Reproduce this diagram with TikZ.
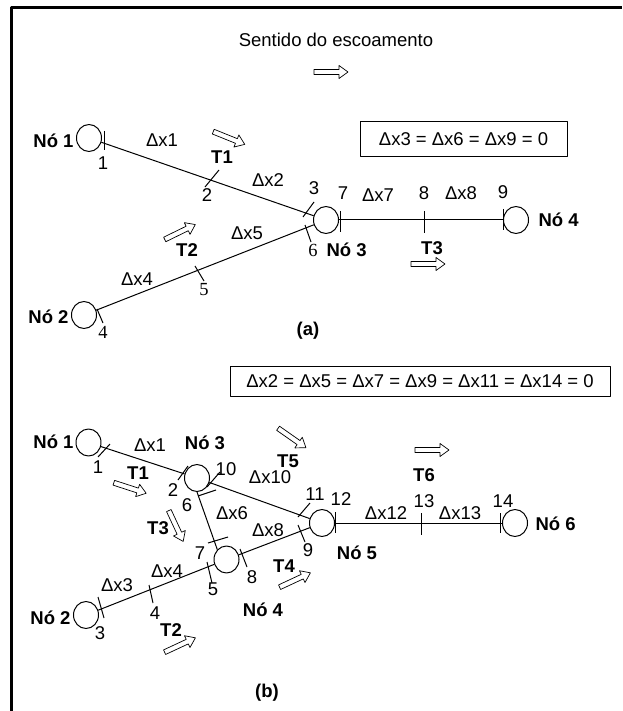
\documentclass[tikz,border=0pt]{standalone}
\usepackage{fontspec}
\setmainfont{Liberation Sans}
\newfontfamily\serifa{Liberation Serif}
\usetikzlibrary{shapes.geometric}
\newcommand{\tamanho}{\fontsize{18.5}{22}\selectfont}
\tikzset{
  no/.style={draw, ellipse, minimum width=25pt, minimum height=27pt, inner sep=0pt},
  negrito/.style={font=\tamanho\bfseries},
  serif/.style={font=\tamanho\serifa},
  caixa/.style={draw, line width=1pt},
  seta/.pic={\draw[line width=0.7pt, fill=white] (-17,-2.5) -- (8,-2.5) -- (8,-6.5) -- (17,0) -- (8,6.5) -- (8,2.5) -- (-17,2.5) -- cycle;}
}
\begin{document}
\begin{tikzpicture}[x=1pt, y=-1pt, font=\tamanho, line width=1pt, line join=round, every node/.append style={inner sep=0pt}]
\useasboundingbox (0,0) rectangle (622,711);
\draw[line width=3pt] (11,711) -- (11,8) -- (622,8);

% (a)
\node at (336,40) {Sentido do escoamento};
\pic at (331,72) {seta};
\node[caixa, minimum width=207pt, minimum height=35pt] (eqa) at (463.5,139.5) {Δx3 = Δx6 = Δx9 = 0};
\node[no] (n1a) at (89,138) {};
\node[no] (n3a) at (326,220) {};
\node[no] (n2a) at (84,315) {};
\node[no] (n4a) at (516,220) {};
\draw (n1a) -- (n3a);
\draw (n2a) -- (n3a);
\draw (n3a) -- (n4a);
% marcas
\draw (104,131) -- (104,150);
\draw (205,187) -- (219,170);
\draw (303,217) -- (314,202);
\draw (305,225) -- (311,242);
\draw (340,211) -- (340,232);
\draw (424,211) -- (424,233);
\draw (503,209) -- (503,230);
\draw (97,309) -- (103,323);
\draw (195,266) -- (204,281);
\pic[rotate=-22] at (229,138) {seta};
\pic[rotate=26] at (180,232) {seta};
\pic at (428,264) {seta};
\node[negrito, anchor=east] at (74,141) {Nó 1};
\node at (103,163) {1};
\node at (162,140) {Δx1};
\node[negrito] at (222,157) {T1};
\node at (207,195) {2};
\node at (268,180) {Δx2};
\node at (314,188) {3};
\node at (343,193) {7};
\node at (378,195) {Δx7};
\node at (424,193) {8};
\node at (461,193) {Δx8};
\node at (503,192) {9};
\node[negrito, anchor=west] at (538,220) {Nó 4};
\node at (247,233) {Δx5};
\node[negrito] at (187,250) {T2};
\node[serif] at (313,250) {6};
\node[negrito, anchor=west] at (326,250) {Nó 3};
\node[negrito] at (432,248) {T3};
\node at (137,279) {Δx4};
\node[serif] at (204,290) {5};
\node[negrito, anchor=east] at (69,317) {Nó 2};
\node[serif] at (103,332) {4};
\node[negrito] at (308,331) {(a)};

% (b)
\node[caixa, minimum width=380pt, minimum height=30pt] (eqb) at (420,381) {Δx2 = Δx5 = Δx7 = Δx9 = Δx11 = Δx14 = 0};
\node[no] (n1b) at (88.5,442.5) {};
\node[no] (n3b) at (197,478) {};
\node[no] (n4b) at (226.5,559.5) {};
\node[no] (n5b) at (322,523) {};
\node[no] (n6b) at (515,523) {};
\node[no] (n2b) at (86,615) {};
\draw (n1b) -- (n3b);
\draw (n3b) -- (n5b);
\draw (n3b.south) -- (n4b.north west);
\draw (n2b) -- (n4b);
\draw (n4b) -- (n5b);
\draw (n5b) -- (n6b);
% marcas
\draw (98,457) -- (110,444);
\draw (178,480) -- (188,466);
\draw (207,487) -- (220,472);
\draw (198,496) -- (216,490);
\draw (208,543) -- (228,537);
\draw (240,549) -- (247,567);
\draw (207,562) -- (212,583);
\draw (298,525) -- (305,542);
\draw (298,517) -- (310,503);
\draw (335,512) -- (335,533);
\draw (421.5,513) -- (421.5,535);
\draw (500,513) -- (500,533);
\draw (98,597) -- (104,618);
\draw (149,585) -- (153,603);
\pic[rotate=-18] at (130,488) {seta};
\pic[rotate=-65] at (176,526) {seta};
\pic[rotate=-35] at (292,438) {seta};
\pic at (432,450) {seta};
\pic[rotate=25] at (295,580) {seta};
\pic[rotate=25] at (180,645) {seta};
\node[negrito, anchor=east] at (74,442) {Nó 1};
\node at (98,467) {1};
\node at (150,445) {Δx1};
\node[negrito] at (205,443) {Nó 3};
\node[negrito] at (138,473) {T1};
\node at (173,490) {2};
\node at (226,469) {10};
\node at (187,505) {6};
\node at (270,477) {Δx10};
\node[negrito] at (288,461) {T5};
\node at (315,494) {11};
\node at (341,499) {12};
\node at (232,513) {Δx6};
\node[negrito] at (158,528) {T3};
\node at (268,530) {Δx8};
\node at (200,553) {7};
\node at (308,550) {9};
\node[negrito] at (357,553) {Nó 5};
\node at (386,513) {Δx12};
\node at (424,501) {13};
\node at (460,513) {Δx13};
\node at (503,501) {14};
\node[negrito, anchor=west] at (535,524) {Nó 6};
\node[negrito] at (424,475) {T6};
\node[negrito] at (284,566) {T4};
\node at (252,577) {8};
\node at (167,571) {Δx4};
\node at (213,589) {5};
\node at (117,585) {Δx3};
\node at (155,613) {4};
\node[negrito] at (263,610) {Nó 4};
\node[negrito, anchor=east] at (71,618) {Nó 2};
\node at (100,633) {3};
\node[negrito] at (171,630) {T2};
\node[negrito] at (267,693) {(b)};
\end{tikzpicture}
\end{document}
